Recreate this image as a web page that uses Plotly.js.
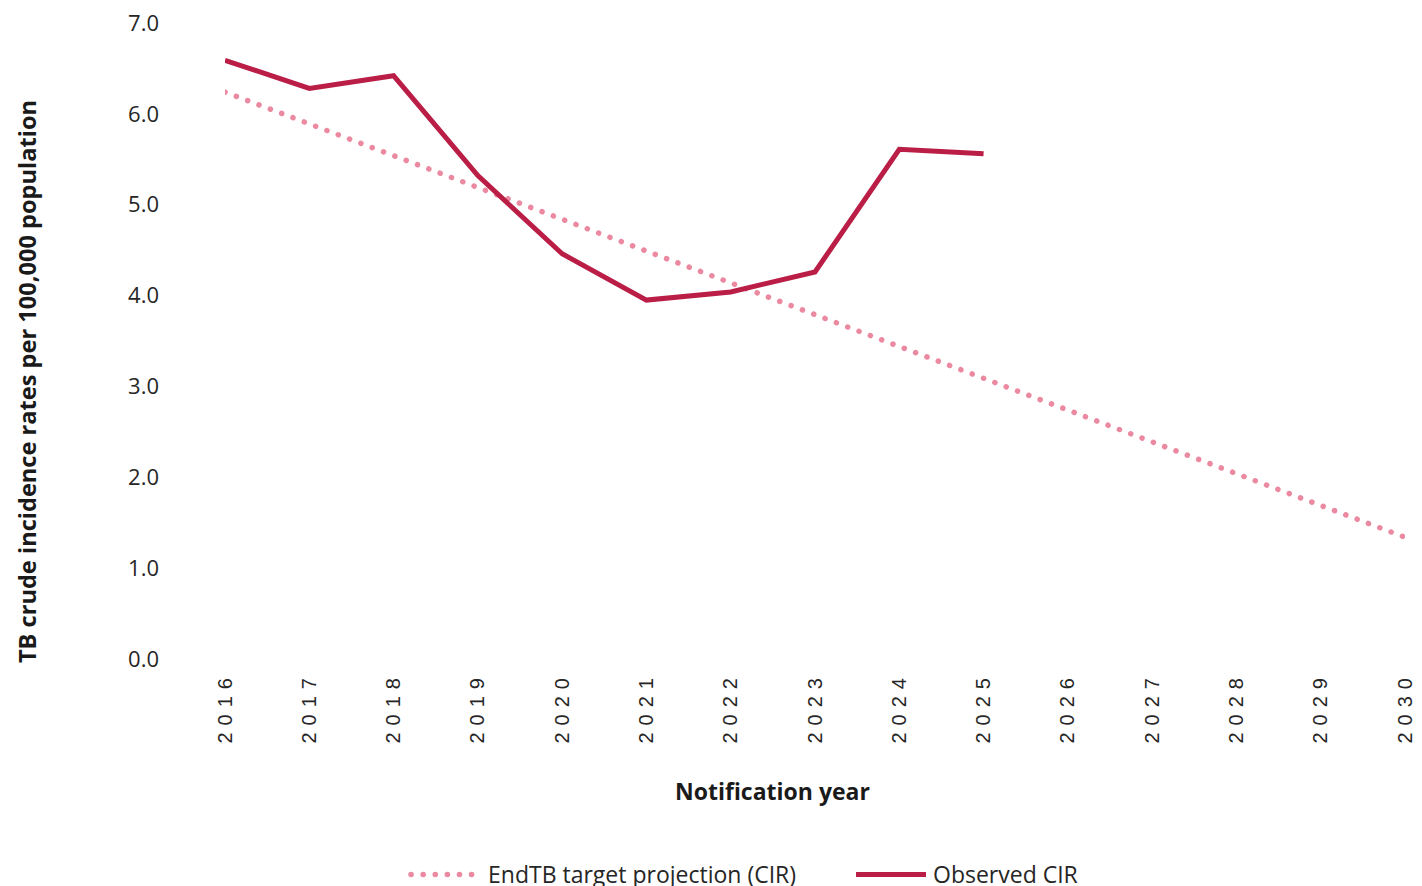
<!DOCTYPE html>
<html>
<head>
<meta charset="utf-8">
<script src="https://cdn.plot.ly/plotly-3.0.1.min.js"></script>
<style>
html, body { margin: 0; padding: 0; background: #fff; }
#chart { width: 1422px; height: 886px; }
.xaxislayer-above .xtick text { letter-spacing: 7px; }
.scatterlayer .trace:first-child path.js-line { stroke-linecap: round; }
.legend .traces:first-child path.js-line { stroke-linecap: round; }
</style>
</head>
<body>
<div id="chart"></div>
<script>
const years = [2016, 2017, 2018, 2019, 2020, 2021, 2022, 2023, 2024, 2025, 2026, 2027, 2028, 2029, 2030];
const targetCIR = [6.24, 5.89, 5.54, 5.19, 4.84, 4.49, 4.14, 3.79, 3.44, 3.09, 2.74, 2.39, 2.04, 1.69, 1.34];
const observedYears = [2016, 2017, 2018, 2019, 2020, 2021, 2022, 2023, 2024, 2025];
const observedCIR = [6.59, 6.28, 6.42, 5.32, 4.46, 3.95, 4.04, 4.26, 5.61, 5.56];
const yTickVals = [0, 1, 2, 3, 4, 5, 6, 7];
const xTitle = 'Notification year';
const yTitle = 'TB crude incidence rates per 100,000 population';

const traces = [
  {
    x: years, y: targetCIR, type: 'scatter', mode: 'lines',
    name: 'EndTB target projection (CIR)',
    line: { color: '#EA89A0', width: 5.5, dash: '0.1px,12px' },
    hoverinfo: 'x+y'
  },
  {
    x: observedYears, y: observedCIR, type: 'scatter', mode: 'lines',
    name: 'Observed CIR',
    line: { color: '#BA1E46', width: 5 },
    hoverinfo: 'x+y'
  }
];

const titleFont = { size: 23, family: 'Open Sans, sans-serif', color: '#1a1a1a', weight: 'bold' };

const layout = {
  width: 1422, height: 886,
  margin: { l: 225, r: 17, t: 23, b: 227, autoexpand: false },
  paper_bgcolor: '#fff', plot_bgcolor: '#fff',
  showlegend: true,
  font: { family: 'Open Sans, Noto Sans, sans-serif', color: '#262626' },
  xaxis: {
    range: [2016, 2030],
    tickvals: years,
    ticktext: years.map(String),
    tickangle: -90,
    showgrid: false, zeroline: false, showline: false, ticks: '',
    tickfont: { family: 'Liberation Sans, Arial, sans-serif', size: 20, color: '#262626' },
    ticklabelstandoff: 7,
    automargin: false
  },
  yaxis: {
    range: [0, 7],
    tickvals: yTickVals,
    tickformat: '.1f',
    showgrid: false, zeroline: false, showline: false, ticks: '',
    tickfont: { size: 22, color: '#262626' },
    ticklabelstandoff: 65,
    automargin: false
  },
  annotations: [
    { text: xTitle, xref: 'paper', yref: 'paper', x: 0.4644, y: -0.2075,
      xanchor: 'center', yanchor: 'middle', showarrow: false, font: titleFont },
    { text: yTitle, xref: 'paper', yref: 'paper', x: -0.1678, y: 0.437,
      xanchor: 'center', yanchor: 'middle', textangle: -90, showarrow: false,
      font: Object.assign({}, titleFont, { size: 23.6 }) }
  ],
  legend: {
    orientation: 'h', x: 0.189, xanchor: 'left', y: -0.305, yanchor: 'top',
    font: { size: 23, color: '#262626' },
    entrywidth: 400, entrywidthmode: 'pixels',
    itemwidth: 30, tracegroupgap: 0
  }
};

function fixLegend() {
  document.querySelectorAll('.legend .scrollbox').forEach(function (g) {
    g.removeAttribute('clip-path');
  });
  document.querySelectorAll('.legend .traces path.js-line').forEach(function (p) {
    p.setAttribute('d', 'M-37,0h70');
  });
}

Plotly.newPlot('chart', traces, layout, { displayModeBar: false }).then(function (gd) {
  fixLegend();
  gd.on('plotly_afterplot', fixLegend);
});
</script>
</body>
</html>
